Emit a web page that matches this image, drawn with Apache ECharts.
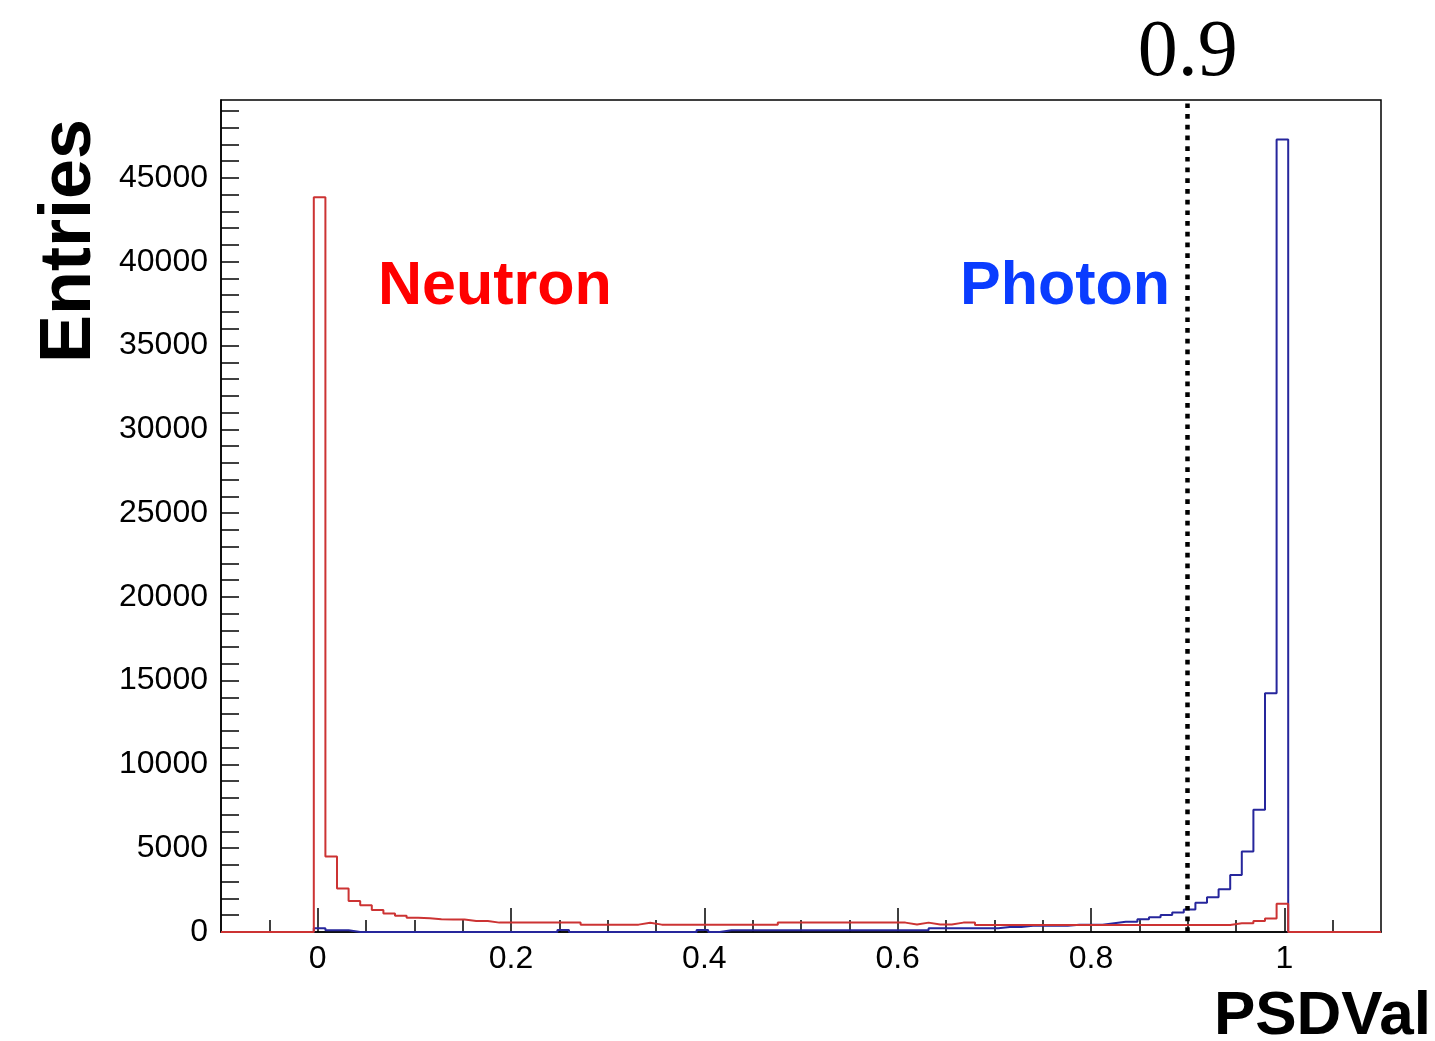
<!DOCTYPE html>
<html>
<head>
<meta charset="utf-8">
<script src="https://cdn.jsdelivr.net/npm/echarts@6/dist/echarts.min.js"></script>
<style>
  html, body { margin: 0; padding: 0; background: #fff; }
  #chart { width: 1435px; height: 1041px; }
</style>
</head>
<body>
<div id="chart"></div>
<script>
// Histogram binning (84 bins)
const binLow = -0.004;
const binWidth = 0.012;

// Neutron (red) bin contents
const neutronCounts = [
  43850, 4500, 2600, 1850, 1600, 1310, 1110, 970, 850, 820,
  760, 740, 740, 660, 660,
  560, 560, 560, 560, 560, 560, 560, 560,
  440, 440, 440, 440, 440,
  550,
  440, 440, 440, 440, 440, 440, 440, 440, 440, 440, 440,
  560, 560, 560, 560, 560, 560, 560, 560, 560, 560, 560,
  450, 560, 450, 450, 560, 560,
  420, 420, 420, 420, 420, 420, 420, 420, 420, 420, 420,
  420, 420, 420, 420, 420, 420, 420, 420, 420, 420, 420,
  520, 520, 660, 800, 1680
];

// Photon (blue) bin contents
const photonCounts = [
  220, 100, 100,
  0, 0, 0, 0, 0, 0, 0, 0, 0, 0, 0, 0, 0, 0, 0, 0, 0, 0,
  120,
  0, 0, 0, 0, 0, 0, 0, 0, 0, 0, 0,
  120, 0,
  100, 100, 100, 100, 100, 100, 100, 100, 100, 100, 100, 100, 100, 100, 100, 100, 100, 100,
  220, 220, 220, 220, 220, 220,
  300, 300,
  380, 380, 380, 380,
  430, 430, 430,
  520, 610, 610, 760, 880, 1010, 1170, 1350, 1750, 2070, 2550, 3400, 4800, 7300, 14250, 47300
];

// Axis ticks / labels
const xMajorTicks = [0, 0.2, 0.4, 0.6, 0.8, 1];
const xMinorTicks = [-0.05, 0.05, 0.1, 0.15, 0.25, 0.3, 0.35, 0.45, 0.5, 0.55, 0.65, 0.7, 0.75, 0.85, 0.9, 0.95, 1.05];
const yLabelTicks = [0, 5000, 10000, 15000, 20000, 25000, 30000, 35000, 40000, 45000];
const yAllTicks = [];
for (let v = 0; v <= 49000; v += 1000) yAllTicks.push(v);
const xRange = [-0.1, 1.1];
const yMax = 49650;
const cutValue = 0.9;

function histOutline(counts) {
  const pts = [[xRange[0], 0], [binLow, 0]];
  for (let k = 0; k < counts.length; k++) {
    const lo = binLow + k * binWidth;
    const hi = binLow + (k + 1) * binWidth;
    pts.push([lo, counts[k]], [hi, counts[k]]);
  }
  pts.push([binLow + counts.length * binWidth, 0], [xRange[1], 0]);
  return pts;
}

const chart = echarts.init(document.getElementById('chart'), null, { renderer: 'canvas' });
const tickStyle = { color: '#000', width: 1.5 };
const option = {
  animation: false,
  backgroundColor: '#ffffff',
  grid: {
    left: 221, top: 100, right: 54, bottom: 109,
    show: true, borderColor: '#000', borderWidth: 1.5, backgroundColor: 'transparent'
  },
  xAxis: [
    {
      type: 'value', min: xRange[0], max: xRange[1], position: 'bottom',
      axisLine: { show: true, onZero: false, lineStyle: tickStyle },
      axisTick: { show: true, inside: true, length: 24, customValues: xMajorTicks, lineStyle: tickStyle },
      axisLabel: {
        show: true, customValues: xMajorTicks, formatter: v => String(v),
        color: '#000', fontSize: 32, fontFamily: 'Liberation Sans', margin: 11
      },
      splitLine: { show: false }
    },
    {
      type: 'value', min: xRange[0], max: xRange[1], position: 'bottom',
      axisLine: { show: false, onZero: false },
      axisTick: { show: true, inside: true, length: 12, customValues: xMinorTicks, lineStyle: tickStyle },
      axisLabel: { show: false },
      splitLine: { show: false }
    }
  ],
  yAxis: {
    type: 'value', min: 0, max: yMax, position: 'left',
    axisLine: { show: true, onZero: false, lineStyle: tickStyle },
    axisTick: { show: true, inside: true, length: 18, customValues: yAllTicks, lineStyle: tickStyle },
    axisLabel: {
      show: true, customValues: yLabelTicks, formatter: v => String(v),
      color: '#000', fontSize: 32, fontFamily: 'Liberation Sans', margin: 13
    },
    splitLine: { show: false }
  },
  series: [
    {
      name: 'Photon', type: 'line', xAxisIndex: 0, yAxisIndex: 0,
      data: histOutline(photonCounts),
      showSymbol: false, symbol: 'none', silent: true, z: 3,
      lineStyle: { color: '#26269c', width: 2 }, itemStyle: { color: '#26269c' }
    },
    {
      name: 'Neutron', type: 'line', xAxisIndex: 0, yAxisIndex: 0,
      data: histOutline(neutronCounts),
      showSymbol: false, symbol: 'none', silent: true, z: 4,
      lineStyle: { color: '#cc3333', width: 2 }, itemStyle: { color: '#cc3333' },
      markLine: {
        silent: true, symbol: 'none', animation: false,
        lineStyle: { color: '#000', width: 4.5, type: [4.7, 6], cap: 'butt' },
        label: {
          show: true, position: 'end', formatter: String(cutValue), distance: 6,
          color: '#000', fontSize: 80, fontFamily: 'Liberation Serif'
        },
        data: [{ xAxis: cutValue }]
      }
    }
  ],
  graphic: [
    {
      type: 'text', x: 70, y: 241, rotation: Math.PI / 2,
      style: { text: 'Entries', fill: '#000', font: 'bold 72px "Liberation Sans"', textAlign: 'center', textVerticalAlign: 'middle' }
    },
    {
      type: 'text', x: 1431, y: 1017,
      style: { text: 'PSDVal', fill: '#000', font: 'bold 62px "Liberation Sans"', textAlign: 'right', textVerticalAlign: 'middle' }
    },
    {
      type: 'text', x: 378, y: 287,
      style: { text: 'Neutron', fill: '#ff0000', font: 'bold 61px "Liberation Sans"', textAlign: 'left', textVerticalAlign: 'middle' }
    },
    {
      type: 'text', x: 960, y: 287,
      style: { text: 'Photon', fill: '#0a3cff', font: 'bold 61px "Liberation Sans"', textAlign: 'left', textVerticalAlign: 'middle' }
    }
  ]
};
chart.setOption(option);
</script>
</body>
</html>
